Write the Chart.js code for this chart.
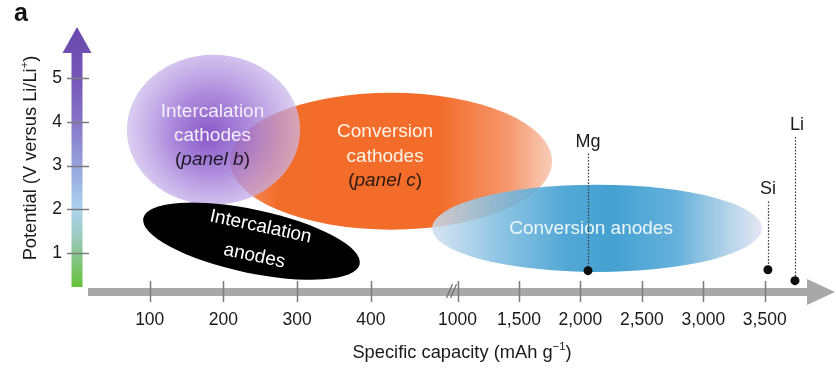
<!DOCTYPE html>
<html>
<head>
<meta charset="utf-8">
<script src="https://cdn.jsdelivr.net/npm/chart.js@4.4.1/dist/chart.umd.min.js"></script>
<style>
  html, body { margin: 0; padding: 0; background: #ffffff; }
  #wrap { width: 836px; height: 368px; position: relative; }
</style>
</head>
<body>
<div id="wrap"><canvas id="chart"></canvas></div>
<script>
// ---- data -------------------------------------------------------------
const X_TICKS = [100, 200, 300, 400, 1000, 1500, 2000, 2500, 3000, 3500];
const X_TICK_LABELS = ['100', '200', '300', '400', '1000', '1,500', '2,000', '2,500', '3,000', '3,500'];
const Y_TICKS = [1, 2, 3, 4, 5];

// material families: capacity range (mAh/g) and potential range (V vs Li/Li+)
const REGION_NAMES   = ['Conversion cathodes', 'Intercalation cathodes', 'Intercalation anodes', 'Conversion anodes'];
const REGION_CAP_MIN = [209, 69, 91, 483];
const REGION_CAP_MAX = [1770, 304, 385, 3478];
const REGION_V_MIN   = [1.53, 2.10, 0.38, 0.56];
const REGION_V_MAX   = [4.67, 5.54, 2.15, 2.56];
const REGION_LINES   = [
  ['Conversion', 'cathodes', '(_panel c_)'],
  ['Intercalation', 'cathodes', '(_panel b_)'],
  ['Intercalation', 'anodes'],
  ['Conversion anodes']
];

// metal anodes
const ELEMENTS          = ['Mg', 'Si', 'Li'];
const ELEMENT_CAPACITY  = [2062, 3526, 3746];
const ELEMENT_POTENTIAL = [0.59, 0.61, 0.36];

// ---- presentation -----------------------------------------------------
const FONT = '"Liberation Sans", Arial, Helvetica, sans-serif';
const ELEMENT_LABEL_V = [3.55, 2.45, 3.93];   // height of each element's name
const REGION_STYLE = [
  { kind: 'orange', tilt: 0, dx: -6, dy: -4.5, gap: 24.5, colors: ['#fff3ea', '#fff3ea', '#2a1a12'] },
  { kind: 'purple', tilt: 0, dx: -1, dy: 6, gap: 24, colors: ['#f4eefb', '#f4eefb', '#1e1a24'] },
  { kind: 'black', tilt: 12, dx: 6, dy: -1, gap: 30, colors: ['#ffffff', '#ffffff'] },
  { kind: 'blue', tilt: 0, dx: -6, dy: 0, gap: 24, colors: ['#eef6fb'] }
];

// ---- x scale with a break between 400 and 1000 mAh/g --------------------
const BREAK_AT = 1000;
const BREAK_POS = 5.175;
function brokenPos(v) {
  return v < BREAK_AT ? v / 100 : BREAK_POS + (v - BREAK_AT) / 600;
}
function brokenValue(p) {
  return p < BREAK_POS ? p * 100 : BREAK_AT + (p - BREAK_POS) * 600;
}
class BrokenLinearScale extends Chart.LinearScale {
  getPixelForValue(v) {
    if (v === null || v === undefined) return NaN;
    const a = brokenPos(this.min), b = brokenPos(this.max);
    return this.left + (brokenPos(v) - a) / (b - a) * this.width;
  }
  getValueForPixel(px) {
    const a = brokenPos(this.min), b = brokenPos(this.max);
    return brokenValue(a + (px - this.left) / this.width * (b - a));
  }
}
BrokenLinearScale.id = 'brokenLinear';
BrokenLinearScale.defaults = Chart.LinearScale.defaults;
Chart.register(BrokenLinearScale);

// ---- drawing helpers --------------------------------------------------
function drawRich(ctx, text, cx, cy, size, color) {
  const parts = text.split('_');
  const fonts = parts.map((_, i) => (i % 2 ? 'italic ' : '') + size + 'px ' + FONT);
  let total = 0;
  const widths = parts.map((p, i) => { ctx.font = fonts[i]; const w = ctx.measureText(p).width; total += w; return w; });
  let x = cx - total / 2;
  ctx.fillStyle = color;
  ctx.textAlign = 'left';
  ctx.textBaseline = 'middle';
  parts.forEach((p, i) => { ctx.font = fonts[i]; ctx.fillText(p, x, cy); x += widths[i]; });
}

function drawWithSup(ctx, base, sup, tail, x, y, size, align) {
  ctx.font = size + 'px ' + FONT;
  const wb = ctx.measureText(base).width;
  const wt = ctx.measureText(tail).width;
  ctx.font = (size * 0.62) + 'px ' + FONT;
  const ws = ctx.measureText(sup).width;
  const total = wb + ws + wt;
  const x0 = align === 'center' ? x - total / 2 : x;
  ctx.textAlign = 'left';
  ctx.textBaseline = 'alphabetic';
  ctx.font = size + 'px ' + FONT;
  ctx.fillText(base, x0, y);
  ctx.font = (size * 0.62) + 'px ' + FONT;
  ctx.fillText(sup, x0 + wb, y - size * 0.42);
  ctx.font = size + 'px ' + FONT;
  ctx.fillText(tail, x0 + wb + ws, y);
}

function regionFill(ctx, kind, cx, cy, rx, ry) {
  if (kind === 'orange') {
    const g = ctx.createLinearGradient(cx - rx, 0, cx + rx, 0);
    g.addColorStop(0, 'rgba(245,140,90,0.9)');
    g.addColorStop(0.15, 'rgba(242,108,42,1)');
    g.addColorStop(0.65, 'rgba(243,108,42,1)');
    g.addColorStop(0.86, 'rgba(245,145,100,0.95)');
    g.addColorStop(1, 'rgba(248,196,170,0.85)');
    return g;
  }
  if (kind === 'purple') {
    const g = ctx.createRadialGradient(cx - 6, cy + 6, 0, cx, cy, Math.max(rx, ry));
    g.addColorStop(0, 'rgba(132,80,198,0.96)');
    g.addColorStop(0.45, 'rgba(158,118,214,0.86)');
    g.addColorStop(0.8, 'rgba(186,160,228,0.74)');
    g.addColorStop(1, 'rgba(206,188,236,0.72)');
    return g;
  }
  if (kind === 'blue') {
    const g = ctx.createLinearGradient(cx - rx, 0, cx + rx, 0);
    g.addColorStop(0, 'rgba(205,222,238,0.82)');
    g.addColorStop(0.2, 'rgba(125,188,224,0.86)');
    g.addColorStop(0.4, 'rgba(70,162,210,0.93)');
    g.addColorStop(0.55, 'rgba(58,156,206,0.95)');
    g.addColorStop(0.74, 'rgba(88,170,216,0.92)');
    g.addColorStop(0.9, 'rgba(175,208,232,0.9)');
    g.addColorStop(1, 'rgba(226,228,243,0.9)');
    return g;
  }
  return '#000000';
}

const figurePlugin = {
  id: 'figure',
  beforeDatasetsDraw(chart) {
    const { ctx, scales: { x, y } } = chart;
    ctx.save();

    // potential axis: gradient arrow
    const ax = y.right + 1;
    const top = y.top + 1;
    const headBase = top + 26;
    const bottom = y.bottom - 5;
    const f = v => (y.getPixelForValue(v) - top) / (bottom - top);
    const grad = ctx.createLinearGradient(0, top, 0, bottom);
    grad.addColorStop(0, '#6a49ad');
    grad.addColorStop(f(5), '#7656b9');
    grad.addColorStop(f(4), '#8676c8');
    grad.addColorStop(f(3), '#95a3dc');
    grad.addColorStop(f(2), '#acd2ee');
    grad.addColorStop(f(1.45), '#a0cbc6');
    grad.addColorStop(f(1), '#88c592');
    grad.addColorStop(1, '#67c23a');
    ctx.fillStyle = grad;
    ctx.beginPath();
    ctx.moveTo(ax, top);
    ctx.lineTo(ax + 14.5, headBase);
    ctx.lineTo(ax + 5.5, headBase);
    ctx.lineTo(ax + 5.5, bottom);
    ctx.lineTo(ax - 5.5, bottom);
    ctx.lineTo(ax - 5.5, headBase);
    ctx.lineTo(ax - 14.5, headBase);
    ctx.closePath();
    ctx.fill();
    ctx.strokeStyle = '#7b7b7b';
    ctx.lineWidth = 1.5;
    y.ticks.forEach((t, i) => {
      const py = Math.round(y.getPixelForTick(i)) + 0.5;
      ctx.beginPath();
      ctx.moveTo(ax - 10, py);
      ctx.lineTo(ax + 12, py);
      ctx.stroke();
    });

    // capacity axis: grey bar with arrow head
    const by = y.bottom;
    const tip = x.right - 1;
    const headStart = tip - 28;
    ctx.fillStyle = '#a8a8a8';
    ctx.fillRect(x.left + 12, by - 4, headStart - (x.left + 12), 8);
    ctx.beginPath();
    ctx.moveTo(headStart, by - 13);
    ctx.lineTo(headStart, by + 13);
    ctx.lineTo(tip, by);
    ctx.closePath();
    ctx.fill();
    ctx.strokeStyle = '#7b7b7b';
    ctx.lineWidth = 1.5;
    x.ticks.forEach((t, i) => {
      const px = Math.round(x.getPixelForTick(i)) + 0.5;
      ctx.beginPath();
      ctx.moveTo(px, by - 11);
      ctx.lineTo(px, by + 10);
      ctx.stroke();
    });
    // break marks
    const bx = x.getPixelForValue(BREAK_AT);
    ctx.lineWidth = 1.2;
    ctx.strokeStyle = '#6f6f6f';
    [[-11, -5], [-7, -1]].forEach(([a, b]) => {
      ctx.beginPath();
      ctx.moveTo(bx + a, by + 6);
      ctx.lineTo(bx + b, by - 8);
      ctx.stroke();
    });

    // material regions
    const geom = REGION_NAMES.map((name, i) => {
      const x0 = x.getPixelForValue(REGION_CAP_MIN[i]);
      const x1 = x.getPixelForValue(REGION_CAP_MAX[i]);
      const y0 = y.getPixelForValue(REGION_V_MAX[i]);
      const y1 = y.getPixelForValue(REGION_V_MIN[i]);
      return { cx: (x0 + x1) / 2, cy: (y0 + y1) / 2, W: (x1 - x0) / 2, H: (y1 - y0) / 2 };
    });
    geom.forEach((g, i) => {
      const st = REGION_STYLE[i];
      const th = st.tilt * Math.PI / 180;
      let rx = g.W, ry = g.H;
      if (th) {
        const c = Math.cos(th) ** 2, s = Math.sin(th) ** 2, d = c * c - s * s;
        rx = Math.sqrt((g.W * g.W * c - g.H * g.H * s) / d);
        ry = Math.sqrt((g.H * g.H * c - g.W * g.W * s) / d);
      }
      ctx.save();
      ctx.fillStyle = regionFill(ctx, st.kind, g.cx, g.cy, rx, ry);
      ctx.beginPath();
      ctx.ellipse(g.cx, g.cy, rx, ry, th, 0, Math.PI * 2);
      ctx.fill();
      ctx.restore();
    });

    // region labels
    geom.forEach((g, i) => {
      const st = REGION_STYLE[i];
      const lines = REGION_LINES[i];
      ctx.save();
      ctx.translate(g.cx, g.cy);
      ctx.rotate(st.tilt * Math.PI / 180);
      lines.forEach((ln, k) => {
        const ly = st.dy + (k - (lines.length - 1) / 2) * st.gap;
        drawRich(ctx, ln, st.dx, ly, 19, st.colors[k]);
      });
      ctx.restore();
    });

    // element names with dotted leaders
    ctx.font = '18px ' + FONT;
    ctx.textAlign = 'center';
    ctx.textBaseline = 'middle';
    ELEMENTS.forEach((el, i) => {
      const px = x.getPixelForValue(ELEMENT_CAPACITY[i]);
      const ly = y.getPixelForValue(ELEMENT_LABEL_V[i]);
      const dy = y.getPixelForValue(ELEMENT_POTENTIAL[i]);
      ctx.fillStyle = '#1a1a1a';
      ctx.fillText(el, px + (i === 2 ? 2 : 0), ly);
      ctx.save();
      ctx.strokeStyle = '#3a3a3a';
      ctx.lineWidth = 1.2;
      ctx.setLineDash([1.6, 1.6]);
      ctx.beginPath();
      ctx.moveTo(Math.round(px) + 0.5, ly + 12);
      ctx.lineTo(Math.round(px) + 0.5, dy - 3);
      ctx.stroke();
      ctx.restore();
    });
    ctx.restore();
  },
  afterDraw(chart) {
    const { ctx } = chart;
    ctx.save();
    ctx.fillStyle = '#1a1a1a';
    // capacity title
    drawWithSup(ctx, 'Specific capacity (mAh g', '\u22121', ')', 462, 358, 18.3, 'center');
    // potential title
    ctx.translate(36, 158);
    ctx.rotate(-Math.PI / 2);
    drawWithSup(ctx, 'Potential (V versus Li/Li', '+', ')', 0, 0, 18.3, 'center');
    ctx.restore();
    // panel letter
    ctx.save();
    ctx.fillStyle = '#111111';
    ctx.font = 'bold 25px ' + FONT;
    ctx.textAlign = 'left';
    ctx.textBaseline = 'alphabetic';
    ctx.fillText('a', 14, 21);
    ctx.restore();
  }
};

new Chart(document.getElementById('chart'), {
  type: 'scatter',
  data: {
    datasets: [{
      label: 'Metal anodes',
      data: ELEMENTS.map((el, i) => ({ x: ELEMENT_CAPACITY[i], y: ELEMENT_POTENTIAL[i] })),
      pointRadius: 4.5,
      pointHoverRadius: 4.5,
      pointBackgroundColor: '#0d0d0d',
      pointBorderWidth: 0,
      clip: false
    }]
  },
  options: {
    responsive: true,
    maintainAspectRatio: false,
    animation: false,
    devicePixelRatio: 1,
    layout: { autoPadding: false, padding: { top: 26, right: 0, bottom: 0, left: 0 } },
    plugins: { legend: { display: false }, tooltip: { enabled: false } },
    scales: {
      x: {
        type: 'brokenLinear',
        min: 0,
        max: 4080,
        grid: { display: false, drawTicks: false },
        border: { display: false },
        afterBuildTicks: s => { s.ticks = X_TICKS.map(v => ({ value: v })); },
        afterFit: s => { s.height = 76; },
        ticks: {
          autoSkip: false,
          maxRotation: 0,
          padding: 18,
          color: '#1a1a1a',
          font: { family: FONT, size: 17.5 },
          callback: (v, i) => X_TICK_LABELS[i]
        }
      },
      y: {
        type: 'linear',
        min: 0.1,
        max: 6.2,
        grid: { display: false, drawTicks: false },
        border: { display: false },
        afterBuildTicks: s => { s.ticks = Y_TICKS.map(v => ({ value: v })); },
        afterFit: s => { s.width = 76; },
        ticks: {
          padding: 14,
          color: '#1a1a1a',
          font: { family: FONT, size: 17.5 },
          callback: v => String(v)
        }
      }
    }
  },
  plugins: [figurePlugin]
});
</script>
</body>
</html>
